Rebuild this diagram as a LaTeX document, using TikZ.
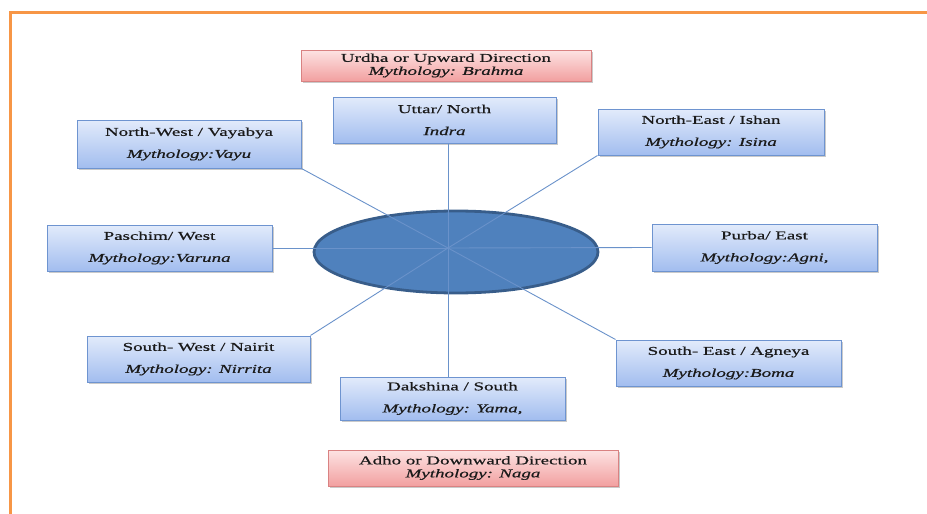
\documentclass[tikz,border=0pt]{standalone}
\usepackage{fontspec}
\setmainfont[FakeStretch=1.58,UprightFeatures={FakeBold=0.6},ItalicFeatures={FakeBold=0.6}]{Liberation Serif}
\usetikzlibrary{shadows,shapes.geometric}
\definecolor{frameorange}{HTML}{F79646}
\definecolor{blueborder}{HTML}{6E94D0}
\definecolor{bluetop}{HTML}{E2EBFB}
\definecolor{bluebot}{HTML}{A2BDEF}
\definecolor{redborder}{HTML}{D98282}
\definecolor{redtop}{HTML}{FDE3E3}
\definecolor{redbot}{HTML}{F2A0A0}
\definecolor{ellfill}{HTML}{4F81BD}
\definecolor{elldraw}{HTML}{385D8A}
\definecolor{conncol}{HTML}{6A92CA}
\definecolor{textcol}{HTML}{1A1A1A}
\tikzset{
  dirbox/.style={draw=blueborder, line width=1pt, top color=bluetop, bottom color=bluebot,
    minimum width=#1, inner sep=0pt, align=center, text=textcol,
    font=\fontsize{12}{14}\selectfont,
    drop shadow={shadow xshift=2pt, shadow yshift=-2pt, opacity=0.35, fill=black!60}},
  vertbox/.style={draw=redborder, line width=1pt, top color=redtop, bottom color=redbot,
    minimum width=#1, inner sep=0pt, align=center, text=textcol,
    font=\fontsize{12}{14}\selectfont,
    drop shadow={shadow xshift=2pt, shadow yshift=-2pt, opacity=0.35, fill=black!60}},
  conn/.style={draw=conncol, line width=0.9pt},
}
\begin{document}
\begin{tikzpicture}[x=1pt,y=-1pt]
\useasboundingbox (0,0) rectangle (927,514);
% orange frame
\draw[frameorange, line width=3pt] (10,514) coordinate (fbl) -- (10,12) coordinate (ftl) -- (927,12) coordinate (ftr);
% hub ellipse
\node[ellipse, draw=elldraw, fill=ellfill, line width=2.8pt, minimum width=284pt, minimum height=82pt, inner sep=0pt] (hubell) at (456,252) {};
\coordinate (hub) at (448,248);
% vertical direction boxes
\node[vertbox=290pt, minimum height=31pt] (up) at (446,65.5) {Urdha or Upward Direction\\[-1pt]\textit{Mythology: Brahma}};
\node[vertbox=290pt, minimum height=36pt] (down) at (473,468) {Adho or Downward Direction\\[-1pt]\textit{Mythology: Naga}};
% compass boxes
\node[dirbox=223pt, minimum height=46pt] (n) at (444.5,120) {Uttar/ North\\[8pt]\textit{Indra}};
\node[dirbox=224pt, minimum height=48pt] (nw) at (189,144) {North-West / Vayabya\\[8pt]\textit{Mythology:Vayu}};
\node[dirbox=226pt, minimum height=46pt] (ne) at (711,132) {North-East / Ishan\\[8pt]\textit{Mythology: Isina}};
\node[dirbox=225pt, minimum height=46pt] (w) at (159.5,248) {Paschim/ West\\[8pt]\textit{Mythology:Varuna}};
\node[dirbox=225pt, minimum height=47pt] (e) at (764.5,247.5) {Purba/ East\\[8pt]\textit{Mythology:Agni,}};
\node[dirbox=223pt, minimum height=46pt] (sw) at (198.5,359) {South- West / Nairit\\[8pt]\textit{Mythology: Nirrita}};
\node[dirbox=225pt, minimum height=43pt] (s) at (452.5,398.5) {Dakshina / South\\[8pt]\textit{Mythology: Yama,}};
\node[dirbox=225pt, minimum height=46pt] (se) at (728.5,363) {South- East / Agneya\\[8pt]\textit{Mythology:Boma}};
% connectors
\draw[conn] (hub) -- (n.south -| hub);
\draw[conn] (hub) -- (nw.south east);
\draw[conn] (hub) -- (ne.south west);
\draw[conn] (hub) -- (w.east);
\draw[conn] (hub) -- (e.west);
\draw[conn] (hub) -- (sw.north east);
\draw[conn] (hub) -- (se.north west);
\draw[conn] (hub) -- (s.north -| hub);
\end{tikzpicture}
\end{document}
